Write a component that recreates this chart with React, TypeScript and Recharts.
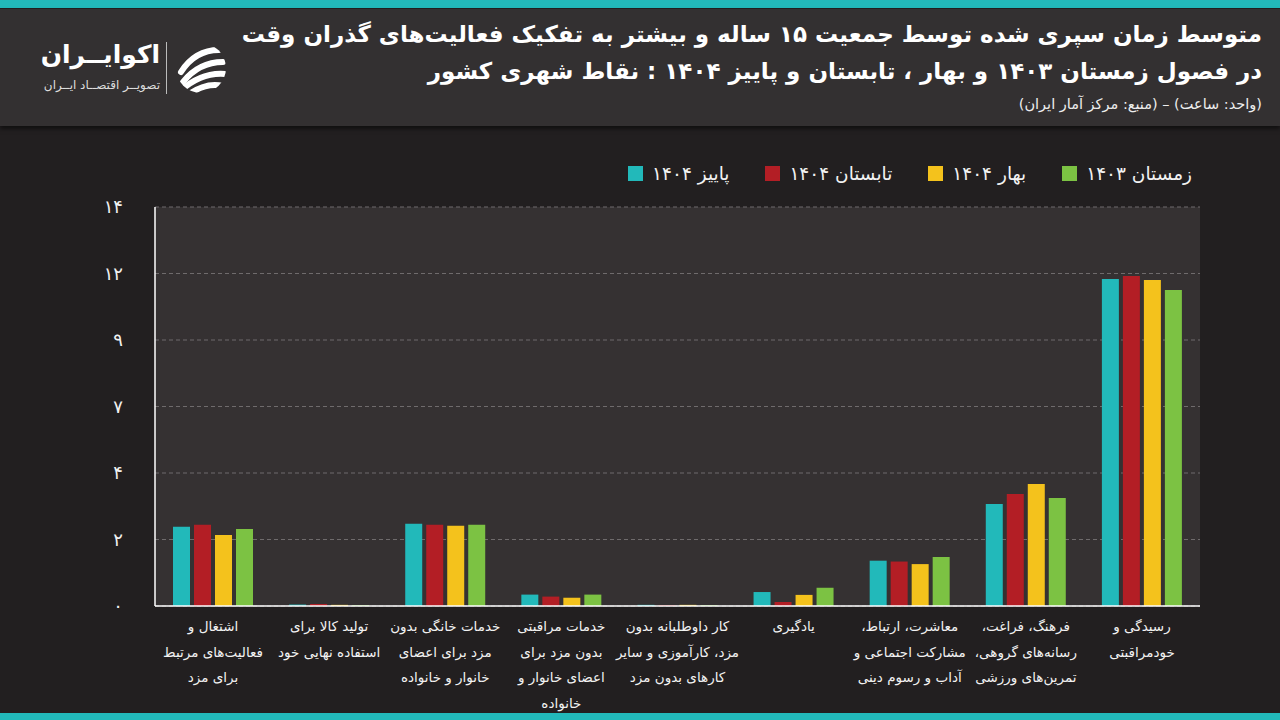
import React from "react";
import { BarChart, Bar, XAxis, YAxis, CartesianGrid } from "recharts";

// categories, left to right as drawn (each "\n" is a line break in the axis label)
const categories = [
  "اشتغال و\nفعالیت‌های مرتبط\nبرای مزد",
  "تولید کالا برای\nاستفاده نهایی خود",
  "خدمات خانگی بدون\nمزد برای اعضای\nخانوار و خانواده",
  "خدمات مراقبتی\nبدون مزد برای\nاعضای خانوار و\nخانواده",
  "کار داوطلبانه بدون\nمزد، کارآموزی و سایر\nکارهای بدون مزد",
  "یادگیری",
  "معاشرت، ارتباط،\nمشارکت اجتماعی و\nآداب و رسوم دینی",
  "فرهنگ، فراغت،\nرسانه‌های گروهی،\nتمرین‌های ورزشی",
  "رسیدگی و\nخودمراقبتی",
];

// hours per day
const autumn1404 = [2.78, 0.05, 2.89, 0.4, 0.04, 0.49, 1.59, 3.58, 11.47];
const summer1404 = [2.85, 0.07, 2.85, 0.33, 0.03, 0.14, 1.56, 3.93, 11.58];
const spring1404 = [2.49, 0.04, 2.82, 0.29, 0.04, 0.39, 1.47, 4.28, 11.44];
const winter1403 = [2.7, 0.03, 2.85, 0.4, 0.03, 0.64, 1.72, 3.79, 11.09];

const yTicks = [0, 14 / 6, 28 / 6, 7, 56 / 6, 70 / 6, 14];
const yTickLabels = ["۰", "۲", "۴", "۷", "۹", "۱۲", "۱۴"];

const series = [
  { key: "autumn", name: "پاییز ۱۴۰۴", color: "#22b9ba", values: autumn1404 },
  { key: "summer", name: "تابستان ۱۴۰۴", color: "#b31e25", values: summer1404 },
  { key: "spring", name: "بهار ۱۴۰۴", color: "#f4c21c", values: spring1404 },
  { key: "winter", name: "زمستان ۱۴۰۳", color: "#7cc243", values: winter1403 },
];

const chartData = categories.map((c, i) => {
  const row: Record<string, string | number> = { name: c };
  series.forEach((s) => (row[s.key] = s.values[i]));
  return row;
});

const FONT = "'DejaVu Sans', sans-serif";

function CategoryTick({ x, y, payload }: any) {
  const lines = String(payload.value).split("\n");
  return (
    <text
      x={x}
      y={y}
      textAnchor="middle"
      direction="rtl"
      fill="#f2f2f2"
      fontSize={13.5}
      fontFamily={FONT}
    >
      {lines.map((l, i) => (
        <tspan key={i} x={x} dy={i === 0 ? 17 : 25.5}>
          {l}
        </tspan>
      ))}
    </text>
  );
}

function ValueTick({ x, y, index }: any) {
  return (
    <text x={x} y={y} dy={6} textAnchor="end" fill="#f2f2f2" fontSize={18} fontFamily={FONT}>
      {yTickLabels[index]}
    </text>
  );
}

function Logo() {
  return (
    <>
      <div
        style={{
          position: "absolute",
          left: 0,
          width: 160,
          top: 40,
          textAlign: "right",
          color: "#fff",
          fontSize: 25,
          fontWeight: 700,
          whiteSpace: "nowrap",
          direction: "rtl",
        }}
      >
        اکوایــران
      </div>
      <div
        style={{
          position: "absolute",
          left: 0,
          width: 160,
          top: 78,
          textAlign: "right",
          color: "#ddd",
          fontSize: 12,
          whiteSpace: "nowrap",
          direction: "rtl",
        }}
      >
        تصویــر اقتصــاد ایــران
      </div>
      <div style={{ position: "absolute", left: 166, top: 42, width: 1, height: 52, background: "#bbb" }} />
      <svg style={{ position: "absolute", left: 175, top: 42 }} width={52} height={52} viewBox="0 0 52 52">
        <defs>
          <clipPath id="logoClip">
            <circle cx={26} cy={26} r={25} />
          </clipPath>
        </defs>
        <g clipPath="url(#logoClip)" stroke="#fff" strokeWidth={6} strokeLinecap="round" fill="none">
          <path d="M6 30 Q 20 8 44 8" />
          <path d="M8 40 Q 24 20 48 20" />
          <path d="M4 50 Q 26 30 50 32" />
          <path d="M14 52 Q 32 40 48 44" />
        </g>
      </svg>
    </>
  );
}

export default function App() {
  return (
    <div
      style={{
        position: "relative",
        width: 1280,
        height: 720,
        background: "#221f20",
        fontFamily: FONT,
        overflow: "hidden",
      }}
    >
      <style>{`body{margin:0}`}</style>

      {/* header band */}
      <div style={{ position: "absolute", left: 0, top: 0, width: 1280, height: 8, background: "#22b9ba" }} />
      <div
        style={{
          position: "absolute",
          left: 0,
          top: 9,
          width: 1280,
          height: 117,
          background: "#333031",
          boxShadow: "0 3px 4px rgba(0,0,0,0.5)",
        }}
      />
      <div
        style={{
          position: "absolute",
          right: 18,
          top: 16,
          direction: "rtl",
          textAlign: "right",
          color: "#fff",
          whiteSpace: "nowrap",
        }}
      >
        <div style={{ fontSize: 23, fontWeight: 700, lineHeight: "37px" }}>
          متوسط زمان سپری شده توسط جمعیت ۱۵ ساله و بیشتر به تفکیک فعالیت‌های گذران وقت
        </div>
        <div style={{ fontSize: 23, fontWeight: 700, lineHeight: "37px" }}>
          در فصول زمستان ۱۴۰۳ و بهار ، تابستان و پاییز ۱۴۰۴ : نقاط شهری کشور
        </div>
        <div style={{ fontSize: 14.5, lineHeight: "28px", color: "#eee" }}>
          (واحد: ساعت) – (منبع: مرکز آمار ایران)
        </div>
      </div>
      <Logo />

      {/* legend */}
      <div
        style={{
          position: "absolute",
          right: 88,
          top: 163,
          direction: "rtl",
          display: "flex",
          gap: 36,
          color: "#f2f2f2",
          fontSize: 18.5,
        }}
      >
        {[...series].reverse().map((s) => (
          <div key={s.key} style={{ display: "flex", alignItems: "center", gap: 9 }}>
            <span style={{ whiteSpace: "nowrap" }}>{s.name}</span>
            <span style={{ display: "inline-block", width: 15, height: 15, background: s.color }} />
          </div>
        ))}
      </div>

      <div style={{ position: "absolute", left: 0, top: 0 }}>
        <BarChart
          width={1280}
          height={720}
          data={chartData}
          margin={{ top: 207, right: 80, left: 95, bottom: 7 }}
          barGap={4}
          barCategoryGap={18}
        >
          <CartesianGrid
            vertical={false}
            fill="#353132"
            stroke="#6f6b6c"
            strokeDasharray="4 3"
          />
          <XAxis
            dataKey="name"
            interval={0}
            height={107}
            tick={<CategoryTick />}
            tickLine={false}
            axisLine={{ stroke: "#ffffff", strokeWidth: 1.5 }}
          />
          <YAxis
            domain={[0, 14]}
            ticks={yTicks}
            width={60}
            tick={<ValueTick />}
            tickLine={false}
            tickMargin={26}
            axisLine={{ stroke: "#ffffff", strokeWidth: 1.5 }}
          />
          {series.map((s) => (
            <Bar key={s.key} dataKey={s.key} name={s.name} fill={s.color} barSize={17} isAnimationActive={false} />
          ))}
        </BarChart>
      </div>

      <div style={{ position: "absolute", left: 0, top: 713, width: 1280, height: 7, background: "#22b9ba" }} />
    </div>
  );
}
